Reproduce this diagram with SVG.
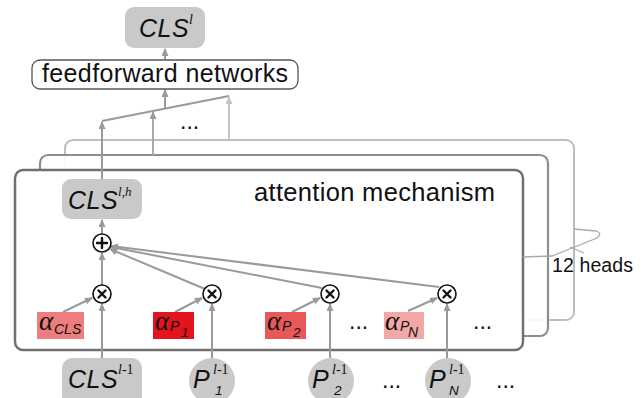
<svg xmlns="http://www.w3.org/2000/svg" width="643" height="398" viewBox="0 0 643 398">
<defs>
<marker id="ah" markerUnits="userSpaceOnUse" markerWidth="8" markerHeight="7" refX="7" refY="3.5" orient="auto"><path d="M0,0 L8,3.5 L0,7 z" fill="#9a9a9a"/></marker>
<marker id="ahl" markerUnits="userSpaceOnUse" markerWidth="8" markerHeight="7" refX="7" refY="3.5" orient="auto"><path d="M0,0 L8,3.5 L0,7 z" fill="#c4c4c4"/></marker>
</defs>
<style>
.sans{font-family:"Liberation Sans",Arial,sans-serif;fill:#111}
.it{font-family:"Liberation Sans",Arial,sans-serif;font-style:italic;fill:#111}
.sup{font-family:"Liberation Serif","Times New Roman",serif;fill:#111}
.gr{fill:#c9c9c9;stroke:none}
.ar{stroke:#9a9a9a;stroke-width:2;fill:none;marker-end:url(#ah)}
.ln{stroke:#9a9a9a;stroke-width:2;fill:none}
.op{fill:#fff;stroke:#111;stroke-width:1.6}
.opl{stroke:#111;stroke-width:2.4;stroke-linecap:round}
.al{font-family:"Liberation Serif","Times New Roman",serif;font-style:italic;fill:#111}
.dots{font-family:"Liberation Sans",Arial,sans-serif;font-size:23px;fill:#111}
</style>

<g id="head-back">
<rect x="65" y="140" width="509" height="180" rx="8" fill="#fff" stroke="#bdbdbd" stroke-width="2"/>
</g>
<g id="head-middle">
<rect x="40" y="155" width="508" height="181" rx="8" fill="#fff" fill-opacity="0.9" stroke="#8e8e8e" stroke-width="2.2"/>
</g>
<g id="head-front">
<rect x="15" y="170" width="508" height="180" rx="8" fill="#fff" stroke="#707070" stroke-width="2.5"/>
<text class="sans" x="254" y="201" font-size="25.5" textLength="241">attention mechanism</text>
</g>

<g id="connectors">
<line class="ar" x1="165" y1="59" x2="165" y2="49"/>
<line class="ar" x1="165" y1="108" x2="165" y2="90"/>
<line class="ln" x1="102" y1="121" x2="229" y2="96"/>
<line class="ar" x1="102" y1="179" x2="102" y2="122"/>
<line class="ar" x1="153" y1="155" x2="153" y2="112" style="stroke:#a8a8a8"/>
<line x1="229" y1="140" x2="229" y2="97" stroke="#c4c4c4" stroke-width="2" marker-end="url(#ahl)"/>
<line class="ar" x1="102" y1="234" x2="102" y2="220"/>
<line class="ar" x1="102" y1="285" x2="102" y2="253"/>
<line class="ar" x1="205" y1="289" x2="110" y2="249"/>
<line class="ar" x1="322" y1="288" x2="111" y2="247"/>
<line class="ar" x1="439" y1="287" x2="111" y2="246"/>
<line class="ar" x1="102" y1="358" x2="102" y2="304"/>
<line class="ar" x1="212" y1="358" x2="212" y2="304"/>
<line class="ar" x1="330" y1="358" x2="330" y2="304"/>
<line class="ar" x1="447" y1="358" x2="447" y2="304"/>
<line class="ar" x1="63" y1="312" x2="92" y2="298"/>
<line class="ar" x1="175" y1="312" x2="202" y2="298"/>
<line class="ar" x1="292" y1="312" x2="320" y2="298"/>
<line class="ar" x1="408" y1="311" x2="437" y2="298"/>
<path d="M523,257 L552,256 L597,238 Q603,233 596,231 L574,229" fill="none" stroke="#aaa" stroke-width="1.3"/>
<line x1="570" y1="247" x2="584" y2="253" stroke="#aaa" stroke-width="1.3"/>
</g>

<g id="cls-out">
<rect class="gr" x="125" y="7" width="80" height="41" rx="9"/>
<text class="it" x="139" y="37" font-size="25" letter-spacing="0.5">CLS</text>
<text class="sup" x="189" y="24" font-size="14" font-style="italic">l</text>
</g>

<g id="ffn">
<rect x="32" y="60" width="266" height="29" rx="8" fill="#fff" stroke="#555" stroke-width="1.3"/>
<text class="sans" x="42" y="82" font-size="25" textLength="246">feedforward networks</text>
</g>

<g id="dots-top"><text class="dots" x="180" y="129">...</text></g>

<g id="cls-head">
<rect class="gr" x="62" y="179" width="80" height="40" rx="9"/>
<text class="it" x="68" y="209" font-size="25" letter-spacing="0.5">CLS</text>
<text class="sup" x="118" y="196" font-size="13"><tspan font-style="italic">l</tspan>,<tspan font-style="italic">h</tspan></text>
</g>

<g id="plus">
<circle class="op" cx="102" cy="243" r="9"/>
<line class="opl" x1="97" y1="243" x2="107" y2="243"/>
<line class="opl" x1="102" y1="238" x2="102" y2="248"/>
</g>

<g id="times-cls"><circle class="op" cx="102" cy="294" r="9"/><path class="opl" d="M98.5,290.5 L105.5,297.5 M105.5,290.5 L98.5,297.5"/></g>
<g id="times-p1"><circle class="op" cx="212" cy="294" r="9"/><path class="opl" d="M208.5,290.5 L215.5,297.5 M215.5,290.5 L208.5,297.5"/></g>
<g id="times-p2"><circle class="op" cx="330" cy="294" r="9"/><path class="opl" d="M326.5,290.5 L333.5,297.5 M333.5,290.5 L326.5,297.5"/></g>
<g id="times-pn"><circle class="op" cx="447" cy="294" r="9"/><path class="opl" d="M443.5,290.5 L450.5,297.5 M450.5,290.5 L443.5,297.5"/></g>

<g id="alpha-cls">
<rect x="37" y="312" width="47" height="27" fill="#ef7d7d"/>
<text class="al" x="39" y="330" font-size="27">α</text>
<text class="it" x="54" y="334" font-size="14">CLS</text>
</g>
<g id="alpha-p1">
<rect x="153" y="312" width="41" height="27" fill="#e3141c"/>
<text class="al" x="155" y="330" font-size="27">α</text>
<text class="it" x="170" y="331" font-size="14">P</text>
<text class="it" x="181" y="337" font-size="13.5">1</text>
</g>
<g id="alpha-p2">
<rect x="265" y="312" width="41" height="27" fill="#e85858"/>
<text class="al" x="267" y="330" font-size="27">α</text>
<text class="it" x="282" y="331" font-size="14">P</text>
<text class="it" x="293" y="337" font-size="13.5">2</text>
</g>
<g id="alpha-pn">
<rect x="384" y="312" width="40" height="27" fill="#f4a7a7"/>
<text class="al" x="385" y="330" font-size="27">α</text>
<text class="it" x="400" y="331" font-size="14">P</text>
<text class="it" x="408" y="337" font-size="14">N</text>
</g>
<g id="dots-box1"><text class="dots" x="349" y="329">...</text></g>
<g id="dots-box2"><text class="dots" x="473" y="329">...</text></g>

<g id="cls-in">
<rect class="gr" x="62" y="358" width="80" height="48" rx="10"/>
<text class="it" x="68" y="388" font-size="25" letter-spacing="0.5">CLS</text>
<text class="sup" x="118" y="374" font-size="14"><tspan font-style="italic">l</tspan>-1</text>
</g>
<g id="p1-in">
<circle class="gr" cx="212" cy="381" r="23"/>
<text class="it" x="193" y="388" font-size="25">P</text>
<text class="sup" x="213" y="374" font-size="14"><tspan font-style="italic">l</tspan>-1</text>
<text class="it" x="215" y="395" font-size="13.5">1</text>
</g>
<g id="p2-in">
<circle class="gr" cx="331" cy="381" r="23"/>
<text class="it" x="312" y="388" font-size="25">P</text>
<text class="sup" x="332" y="374" font-size="14"><tspan font-style="italic">l</tspan>-1</text>
<text class="it" x="334" y="395" font-size="13.5">2</text>
</g>
<g id="pn-in">
<circle class="gr" cx="448" cy="381" r="23"/>
<text class="it" x="429" y="388" font-size="25">P</text>
<text class="sup" x="449" y="374" font-size="14"><tspan font-style="italic">l</tspan>-1</text>
<text class="it" x="449" y="395" font-size="13.5">N</text>
</g>
<g id="dots-in1"><text class="dots" x="382" y="388">...</text></g>
<g id="dots-in2"><text class="dots" x="496" y="388">...</text></g>

<g id="heads-label"><text class="sans" x="552" y="272" font-size="19.5" textLength="81">12 heads</text></g>
</svg>
